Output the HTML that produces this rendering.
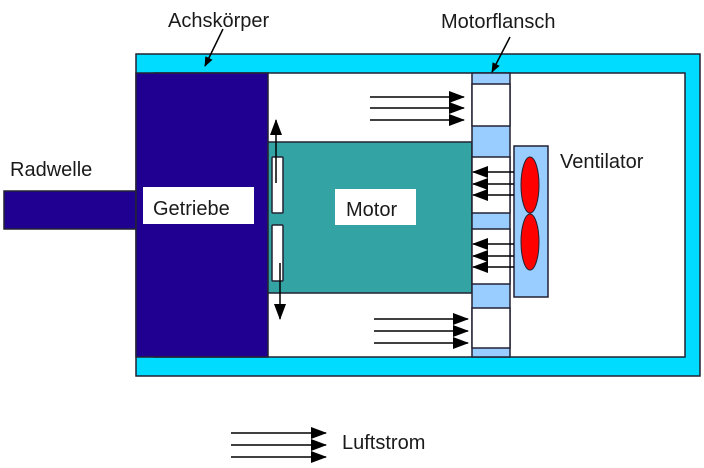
<!DOCTYPE html>
<html><head><meta charset="utf-8"><style>
body{margin:0;background:#fff}
svg text{font-family:"Liberation Sans",sans-serif;font-size:20px;fill:#1a1a1a}
</style></head><body>
<svg width="704" height="463" viewBox="0 0 704 463" xmlns="http://www.w3.org/2000/svg">
<defs><marker id="a" markerWidth="10" markerHeight="8" refX="9" refY="4" orient="auto" markerUnits="userSpaceOnUse"><path d="M0,0 L10,4 L0,8z" fill="#000"/></marker>
<marker id="b" markerWidth="16" markerHeight="12" refX="15" refY="6" orient="auto" markerUnits="userSpaceOnUse"><path d="M0,0 L16,6 L0,12z" fill="#000"/></marker></defs>
<rect x="136" y="54" width="564" height="322" fill="#00dcff" stroke="#223" stroke-width="1.5"/>
<rect x="154" y="73" width="531" height="284" fill="#fff" stroke="#223" stroke-width="1.5"/>
<rect x="4" y="191" width="132" height="38" fill="#200090" stroke="#223" stroke-width="1.5"/>
<rect x="136" y="73" width="132" height="284" fill="#200090" stroke="#223" stroke-width="1.5"/>
<rect x="143" y="187" width="111" height="37" fill="#fff"/>
<text x="153" y="215">Getriebe</text>
<rect x="268" y="142" width="204" height="151" fill="#33a3a3" stroke="#223" stroke-width="1.5"/>
<rect x="335" y="189" width="81" height="36" fill="#fff"/>
<text x="346" y="216">Motor</text>
<rect x="472" y="73" width="38" height="284" fill="#99ccff" stroke="#223" stroke-width="1.5"/>
<g fill="#fff" stroke="#223" stroke-width="1.5">
<rect x="472" y="84" width="38" height="42"/><rect x="472" y="157" width="38" height="56"/>
<rect x="472" y="229" width="38" height="55"/><rect x="472" y="308" width="38" height="40"/>
<rect x="272" y="157" width="11" height="56" rx="1"/><rect x="272" y="225" width="11" height="56" rx="1"/>
</g>
<rect x="514" y="146" width="34" height="151" fill="#99ccff" stroke="#223" stroke-width="1.5"/>
<ellipse cx="530" cy="185" rx="9" ry="28" fill="#f00" stroke="#223"/>
<ellipse cx="530" cy="242" rx="9" ry="28" fill="#f00" stroke="#223"/>
<g stroke="#000" stroke-width="1.5" marker-end="url(#b)">
<line x1="370" y1="97" x2="464" y2="97"/><line x1="370" y1="108" x2="464" y2="108"/><line x1="370" y1="120" x2="464" y2="120"/>
<line x1="374" y1="319" x2="468" y2="319"/><line x1="374" y1="331" x2="468" y2="331"/><line x1="374" y1="343" x2="468" y2="343"/>
<line x1="514" y1="172" x2="473" y2="172"/><line x1="514" y1="184" x2="473" y2="184"/><line x1="514" y1="195" x2="473" y2="195"/>
<line x1="514" y1="244" x2="473" y2="244"/><line x1="514" y1="256" x2="473" y2="256"/><line x1="514" y1="267" x2="473" y2="267"/>
<line x1="276" y1="183" x2="276" y2="120"/><line x1="280" y1="263" x2="280" y2="319"/>
<line x1="231" y1="433" x2="326" y2="433"/><line x1="231" y1="445" x2="326" y2="445"/><line x1="231" y1="457" x2="326" y2="457"/>
</g>
<g stroke="#000" stroke-width="1.5" marker-end="url(#a)">
<line x1="223" y1="29" x2="205" y2="66"/><line x1="510" y1="37" x2="492" y2="72"/>
</g>
<text x="168" y="27">Achskörper</text>
<text x="441" y="28">Motorflansch</text>
<text x="10" y="176">Radwelle</text>
<text x="560" y="168">Ventilator</text>
<text x="342" y="449">Luftstrom</text>
</svg>
</body></html>
